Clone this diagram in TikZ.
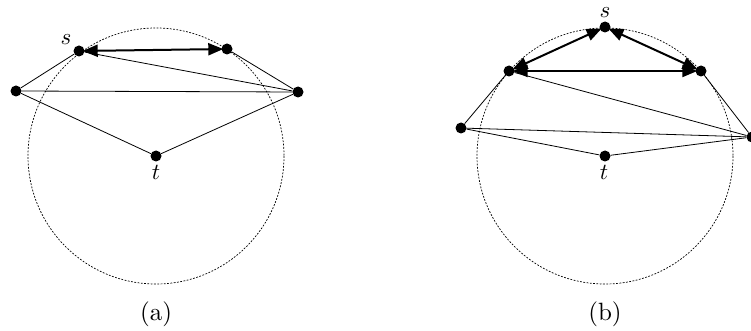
\documentclass[tikz,border=0pt]{standalone}
\usetikzlibrary{arrows.meta}
\begin{document}
\begin{tikzpicture}[x=1pt,y=-1pt,
  vtx/.style={circle,fill=black,inner sep=0pt,minimum size=11pt},
  thin edge/.style={line width=0.8pt},
  thick edge/.style={line width=2pt,{Triangle[length=15pt,width=12pt]}-{Triangle[length=15pt,width=12pt]},shorten <=-2pt,shorten >=-2pt},
  disc/.style={dash pattern=on 1.8pt off 1.5pt,line width=0.7pt},
  lbl/.style={inner sep=0pt,scale=2.3},
  captext/.style={inner sep=0pt,scale=2.5}]
\useasboundingbox (0,0) rectangle (751,331);
\clip (0,0) rectangle (751,331);

% ---- (a) ----
\draw[disc] (156,156) circle (128);
\node[vtx] (as) at (79,51) {};
\node[vtx] (ar) at (227,49) {};
\node[vtx] (al) at (16,91) {};
\node[vtx] (aR) at (298,92) {};
\node[vtx] (at) at (156,156) {};
\node[lbl] (asl) at (66,40) {$s$};
\node[lbl] (atl) at (156,172) {$t$};
\draw[thin edge] (al) -- (as);
\draw[thin edge] (al) -- (aR);
\draw[thin edge] (al) -- (at);
\draw[thin edge] (at) -- (aR);
\draw[thin edge] (aR) -- (ar);
\draw[thin edge] (aR) -- (as);
\draw[thick edge] (as) -- (ar);
\node[captext] (capa) at (156,314) {(a)};

% ---- (b) ----
\draw[disc] (605,156) circle (128);
\node[vtx] (bs) at (605,27) {};
\node[vtx] (bul) at (509,71) {};
\node[vtx] (bur) at (701,71) {};
\node[vtx] (bl) at (461,128) {};
\node[vtx] (bR) at (752,137) {};
\node[vtx] (bt) at (605,156) {};
\node[lbl] (bsl) at (605,13) {$s$};
\node[lbl] (btl) at (604,172) {$t$};
\draw[thin edge] (bl) -- (bul);
\draw[thin edge] (bl) -- (bR);
\draw[thin edge] (bl) -- (bt);
\draw[thin edge] (bt) -- (bR);
\draw[thin edge] (bR) -- (bur);
\draw[thin edge] (bR) -- (bul);
\draw[thick edge] (bul) -- (bs);
\draw[thick edge] (bs) -- (bur);
\draw[thick edge] (bul) -- (bur);
\node[captext] (capb) at (605,314) {(b)};
\end{tikzpicture}
\end{document}
